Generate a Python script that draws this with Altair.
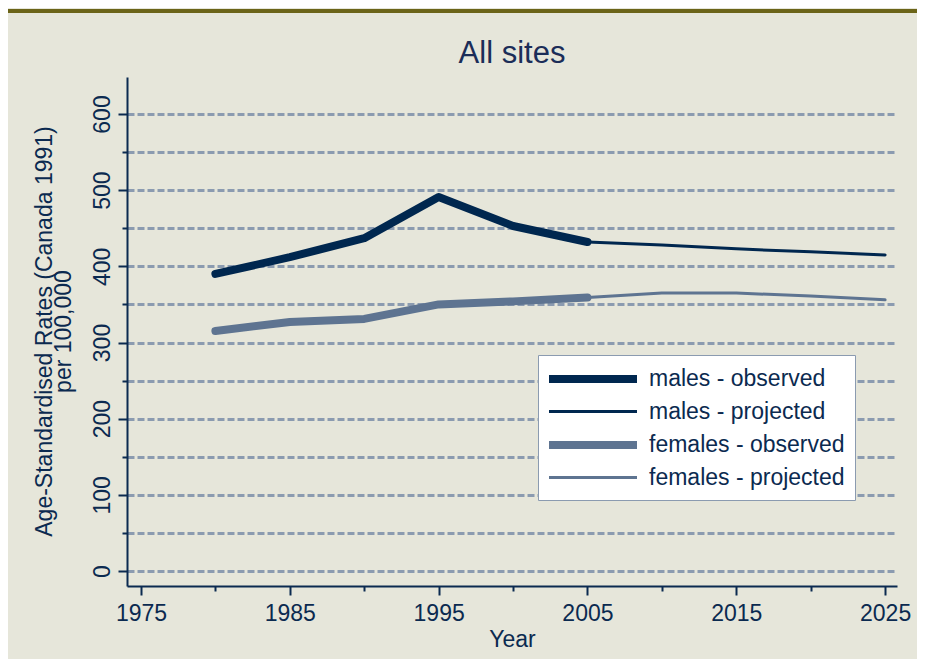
import altair as alt
import pandas as pd

# ---- data ----
years_obs = [1980, 1985, 1990, 1995, 2000, 2005]
years_proj = [2005, 2010, 2015, 2020, 2025]
males_obs = [390, 412, 437, 491, 453, 432]
males_proj = [432, 428, 423, 419, 415]
females_obs = [315, 327, 331, 350, 354, 359]
females_proj = [359, 365, 365, 361, 356]

series_names = ["males - observed", "males - projected",
                "females - observed", "females - projected"]
series_colors = ["#00274f", "#00274f", "#5e7491", "#5e7491"]
series_widths = [8, 3, 8, 3]

x_ticks = [1975, 1980, 1985, 1990, 1995, 2000, 2005, 2010, 2015, 2020, 2025]
y_ticks = [0, 50, 100, 150, 200, 250, 300, 350, 400, 450, 500, 550, 600]

rows = []
for name, yrs, vals in [
    ("males - observed", years_obs, males_obs),
    ("males - projected", years_proj, males_proj),
    ("females - observed", years_obs, females_obs),
    ("females - projected", years_proj, females_proj),
]:
    for yr, v in zip(yrs, vals):
        rows.append({"year": yr, "rate": v, "series": name})
df = pd.DataFrame(rows)

NAVY = "#0b2a50"
TITLE_NAVY = "#1b2d58"
GRID = "#8b9bb0"
FONT = "Liberation Sans"

legend = alt.Legend(
    title=None,
    orient="none",
    legendX=411,
    legendY=278,
    fillColor="white",
    strokeColor=GRID,
    padding=10,
    rowPadding=5,
    symbolType="M-4.4,0H4.4",
    symbolSize=400,
    symbolOffset=31,
    labelOffset=42,
    labelLimit=400,
    labelFontSize=23,
    labelFont=FONT,
    labelColor=NAVY,
)

x_axis = alt.Axis(
    values=x_ticks,
    labelExpr="datum.value % 10 == 5 ? datum.label : ''",
    format="d",
    tickSize={"expr": "datum.value % 10 == 5 ? 9 : 5"},
    tickColor=NAVY,
    tickWidth=2,
    domainColor=NAVY,
    domainWidth=2,
    grid=False,
    labelFontSize=23,
    labelFont=FONT,
    labelColor=NAVY,
    labelPadding=7,
    labelFlush=False,
    labelOverlap=False,
    title="Year",
    titleFontSize=23,
    titleFont=FONT,
    titleFontWeight="normal",
    titleColor=NAVY,
    titleBaseline="middle",
    titleY=53,
)

y_axis = alt.Axis(
    values=y_ticks,
    labelExpr="datum.value % 100 == 0 ? datum.label : ''",
    tickSize={"expr": "datum.value % 100 == 0 ? 9 : 5"},
    tickColor=NAVY,
    tickWidth=2,
    domainColor=NAVY,
    domainWidth=2,
    grid=True,
    gridColor=GRID,
    gridDash=[7, 3],
    gridWidth=3,
    labelAngle=270,
    labelAlign="center",
    labelBaseline="alphabetic",
    labelFontSize=23,
    labelFont=FONT,
    labelColor=NAVY,
    labelPadding=9,
    labelFlush=False,
    labelOverlap=False,
    title=["Age-Standardised Rates (Canada 1991)", "per 100,000"],
    titleAngle=270,
    titleAlign="center",
    titleBaseline="middle",
    titleX=-83,
    titleY=254,
    titleFontSize=23,
    titleFont=FONT,
    titleFontWeight="normal",
    titleColor=NAVY,
    titleLineHeight=19,
)

lines = alt.Chart(df).mark_line(strokeCap="round", strokeJoin="round").encode(
    x=alt.X("year:Q", scale=alt.Scale(domain=[1974.06, 2025.8], nice=False, zero=False), axis=x_axis),
    y=alt.Y("rate:Q", scale=alt.Scale(domain=[-19.7, 648.6], nice=False), axis=y_axis),
    color=alt.Color("series:N", scale=alt.Scale(domain=series_names, range=series_colors), legend=legend),
    strokeWidth=alt.StrokeWidth("series:N",
                                scale=alt.Scale(type="ordinal", domain=series_names, range=series_widths),
                                legend=legend),
    detail="series:N",
)

top_rule = alt.Chart(pd.DataFrame({"a": [0]})).mark_rule(color="#6b6418", strokeWidth=4).encode(
    x=alt.value(-119), x2=alt.value(790), y=alt.value(-66)
)

chart = alt.layer(top_rule, lines).properties(
    width=770,
    height=509,
    padding={"left": 119, "top": 69, "right": 20, "bottom": 73},
    autosize=alt.AutoSizeParams(type="none"),
    background="#e6e6da",
    title=alt.Title("All sites", fontSize=31, font=FONT, fontWeight="normal",
                    color=TITLE_NAVY, anchor="middle", baseline="alphabetic",
                    offset=0, dy=85),
).configure_view(stroke=None)

chart.save("out.html", embed_options={"renderer": "svg", "actions": False})
